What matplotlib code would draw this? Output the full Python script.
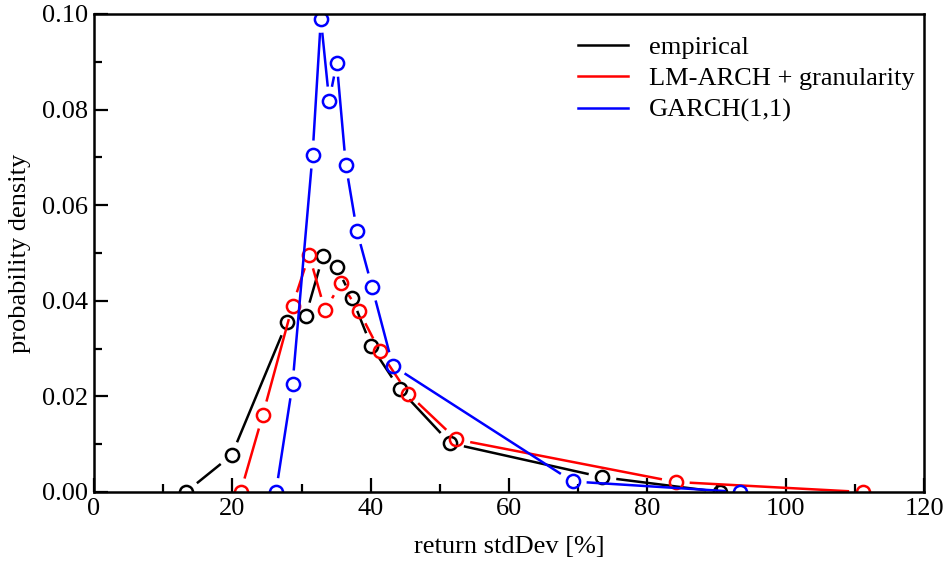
import numpy as np
import matplotlib
matplotlib.use("Agg")
import matplotlib.pyplot as plt
from matplotlib.lines import Line2D

# values
emp_x = [13.3, 19.9, 27.9, 30.6, 33.1, 35.1, 37.3, 40.1, 44.2, 51.5, 73.5, 90.5]
emp_y = [0.000, 0.0077, 0.0355, 0.0368, 0.0494, 0.0470, 0.0406, 0.0305, 0.0215, 0.0102, 0.0031, 0.000]

lm_x = [21.2, 24.4, 28.7, 31.1, 33.4, 35.7, 38.3, 41.3, 45.4, 52.4, 84.1, 111.2]
lm_y = [0.000, 0.0161, 0.0390, 0.0496, 0.0380, 0.0437, 0.0379, 0.0295, 0.0206, 0.0110, 0.0021, 0.000]

garch_x = [26.3, 28.7, 31.6, 32.8, 34.0, 35.1, 36.4, 38.0, 40.2, 43.2, 69.2, 93.4]
garch_y = [0.000, 0.0225, 0.0706, 0.0990, 0.0819, 0.0898, 0.0685, 0.0547, 0.0429, 0.0264, 0.0022, 0.000]

labels = ["empirical", "LM-ARCH + granularity", "GARCH(1,1)"]
colors = ["black", "red", "blue"]

plt.rcParams["font.family"] = ["Liberation Serif", "DejaVu Serif"]

fig = plt.figure(figsize=(9.49, 5.65), dpi=100)
ax = fig.add_axes([94 / 949, 73 / 565, 830 / 949, 478 / 565])
ax.set_xlim(0, 120)
ax.set_ylim(0, 0.10)


def gapped_line(ax, xs, ys, color, gap=14):
    # xmgrace-like: line stops short of each symbol
    pts = ax.transData.transform(np.column_stack([xs, ys]))
    inv = ax.transData.inverted()
    for p0, p1 in zip(pts[:-1], pts[1:]):
        d = p1 - p0
        L = np.hypot(*d)
        if L <= 2 * gap:
            continue
        u = d / L
        a = inv.transform(p0 + u * gap)
        b = inv.transform(p1 - u * gap)
        ax.plot([a[0], b[0]], [a[1], b[1]], color=color, lw=1.8,
                solid_capstyle="butt")


series = [(emp_x, emp_y), (lm_x, lm_y), (garch_x, garch_y)]
for (xs, ys), c in zip(series, colors):
    gapped_line(ax, xs, ys, c)
    ax.plot(xs, ys, "o", ms=9.5, mfc="none", mec=c, mew=1.8)

ax.set_xticks(np.arange(0, 121, 20))
ax.set_xticks(np.arange(10, 120, 20), minor=True)
ax.set_yticks(np.arange(0, 0.101, 0.02))
ax.set_yticks(np.arange(0.01, 0.1, 0.02), minor=True)
ax.set_yticklabels([f"{v:.2f}" for v in np.arange(0, 0.101, 0.02)])
ax.tick_params(which="both", direction="in", top=False, right=False,
               labelsize=19, width=1.6, pad=4)
ax.tick_params(which="major", length=10)
ax.tick_params(which="minor", length=6)
for s in ax.spines.values():
    s.set_linewidth(1.8)

ax.set_xlabel("return stdDev [%]", fontsize=19, labelpad=12)
ax.set_ylabel("probability density", fontsize=19, labelpad=8)

handles = [Line2D([], [], color=c, lw=1.8) for c in colors]
ax.legend(handles, labels, loc="upper left", bbox_to_anchor=(0.583, 0.955),
          frameon=False, fontsize=19, handlelength=1.9, handletextpad=0.8,
          borderpad=0, borderaxespad=0, labelspacing=0.3)

fig.savefig("out.png", dpi=100)
